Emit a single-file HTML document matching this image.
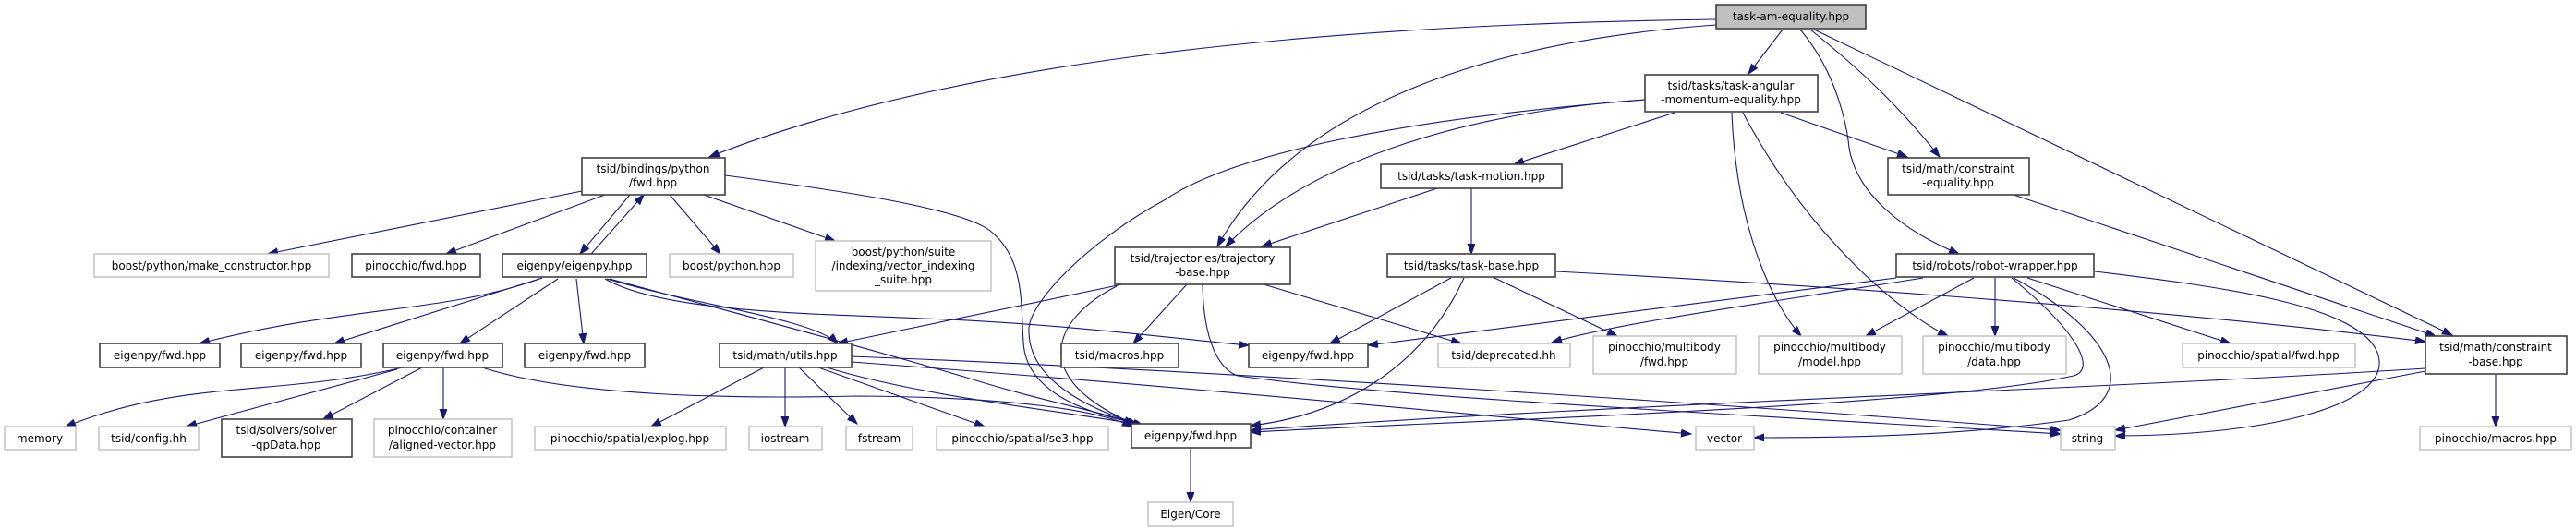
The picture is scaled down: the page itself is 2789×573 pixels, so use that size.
<!DOCTYPE html>
<html><head><meta charset="utf-8"><style>
html,body{margin:0;padding:0;background:#fff;}
svg{display:block;}
text{font-family:"DejaVu Sans","Liberation Sans",sans-serif;font-size:12px;fill:#000;text-anchor:middle;}
.b{fill:#fff;stroke:#404040;stroke-width:1.6;}
.g{fill:#fff;stroke:#bfbfbf;stroke-width:1.4;}
.r{fill:#bfbfbf;stroke:#404040;stroke-width:1.6;}
path.e{fill:none;stroke:#191970;stroke-width:1.1;marker-end:url(#a);}
</style></head><body>
<svg width="2789" height="573" viewBox="0 0 2789 573" xmlns="http://www.w3.org/2000/svg">
<defs><marker id="a" markerUnits="userSpaceOnUse" markerWidth="12" markerHeight="10" refX="11" refY="4" orient="auto"><path d="M0,0 L11,4 L0,8 z" fill="#191970" stroke="#191970"/></marker></defs>

<!-- edges -->
<path class="e" d="M1858,21 C1400,27 1020,70 768,170"/>
<path class="e" d="M1858,27 C1600,45 1400,120 1318,267"/>
<path class="e" d="M1930,32 L1893,80"/>
<path class="e" d="M1960,32 C2020,80 2060,120 2100,170"/>
<path class="e" d="M1949,32 C1990,80 2000,140 2002,160 C2010,210 2060,250 2121,275"/>
<path class="e" d="M1964,32 L2655,363"/>
<path class="e" d="M1781,108 C1600,120 1420,170 1327,267"/>
<path class="e" d="M1781,108 C1500,130 1330,170 1262,216 C1180,260 1110,330 1114,360 C1115,420 1200,450 1238,461"/>
<path class="e" d="M1813,122 L1639,178"/>
<path class="e" d="M1928,122 L2065,170"/>
<path class="e" d="M1875,122 C1880,250 1920,330 1950,364"/>
<path class="e" d="M1887,122 C1960,260 2060,340 2109,364"/>
<path class="e" d="M1556,204 L1366,267"/>
<path class="e" d="M1593,204 L1593,275"/>
<path class="e" d="M1571,301 L1440,372"/>
<path class="e" d="M1585,301 C1540,400 1450,450 1354,461"/>
<path class="e" d="M1618,301 L1751,364"/>
<path class="e" d="M1684,294 C1900,305 2300,330 2626,370"/>
<path class="e" d="M1215,308 L907,372"/>
<path class="e" d="M1285,308 L1227,372"/>
<path class="e" d="M1368,308 L1582,372"/>
<path class="e" d="M1209,310 C1140,345 1110,410 1232,461"/>
<path class="e" d="M1302,308 C1303,370 1320,400 1340,407 C1500,430 1900,450 2231,470"/>
<path class="e" d="M630,207 L290,275"/>
<path class="e" d="M655,211 L483,275"/>
<path class="e" d="M682,211 L628,275"/>
<path class="e" d="M640,275 L697,211"/>
<path class="e" d="M725,211 L780,275"/>
<path class="e" d="M762,211 L904,261"/>
<path class="e" d="M785,190 C900,205 1040,225 1072,250 C1110,280 1105,330 1108,370 C1110,430 1190,450 1232,459"/>
<path class="e" d="M587,301 C480,340 380,330 216,372"/>
<path class="e" d="M584,302 L362,372"/>
<path class="e" d="M604,302 L498,372"/>
<path class="e" d="M624,302 L632,372"/>
<path class="e" d="M655,302 C720,340 900,340 1000,345 C1150,350 1300,370 1352,374"/>
<path class="e" d="M657,302 C750,330 880,345 907,372"/>
<path class="e" d="M660,302 C800,340 950,380 1050,410 C1130,435 1190,445 1228,459"/>
<path class="e" d="M436,398 C300,430 200,410 71,462"/>
<path class="e" d="M430,400 L202,462"/>
<path class="e" d="M457,398 L350,454"/>
<path class="e" d="M480,398 L480,454"/>
<path class="e" d="M522,398 C620,430 800,432 930,429 C1100,430 1190,445 1226,462"/>
<path class="e" d="M827,398 L705,462"/>
<path class="e" d="M850,398 L850,462"/>
<path class="e" d="M865,398 L928,459"/>
<path class="e" d="M886,398 L1066,462"/>
<path class="e" d="M895,398 C1000,430 1150,445 1234,460"/>
<path class="e" d="M922,392 C1300,420 1600,450 1831,470"/>
<path class="e" d="M920,386 C1300,400 1900,440 2231,466"/>
<path class="e" d="M2053,301 L1481,374"/>
<path class="e" d="M2082,301 C1900,330 1750,350 1680,371"/>
<path class="e" d="M2137,301 L2020,364"/>
<path class="e" d="M2160,301 L2160,364"/>
<path class="e" d="M2180,301 C2290,360 2320,430 2240,455 C2100,475 1950,474 1899,474"/>
<path class="e" d="M2178,301 C2250,360 2270,400 2245,407 C2100,440 1600,455 1354,468"/>
<path class="e" d="M2195,301 L2415,372"/>
<path class="e" d="M2268,294 C2400,310 2560,330 2575,385 C2590,440 2450,472 2290,472"/>
<path class="e" d="M2180,211 L2637,364"/>
<path class="e" d="M2702,405 L2702,462"/>
<path class="e" d="M2626,402 L2290,466"/>
<path class="e" d="M2626,399 C2300,420 1700,440 1354,466"/>
<path class="e" d="M1289,485 L1289,544"/>

<!-- nodes -->
<rect class="r" x="1858" y="5" width="162" height="26"/><text x="1939" y="22">task-am-equality.hpp</text>
<rect class="b" x="1781" y="81" width="187" height="40"/><text x="1874" y="97">tsid/tasks/task-angular</text><text x="1874" y="112">-momentum-equality.hpp</text>
<rect class="b" x="630" y="171" width="155" height="40"/><text x="707" y="187">tsid/bindings/python</text><text x="707" y="202">/fwd.hpp</text>
<rect class="b" x="1495" y="178" width="196" height="26"/><text x="1593" y="195">tsid/tasks/task-motion.hpp</text>
<rect class="b" x="2044" y="171" width="153" height="40"/><text x="2120" y="187">tsid/math/constraint</text><text x="2120" y="202">-equality.hpp</text>
<rect class="b" x="1207" y="268" width="190" height="40"/><text x="1302" y="284">tsid/trajectories/trajectory</text><text x="1302" y="299">-base.hpp</text>
<rect class="b" x="1502" y="275" width="182" height="25"/><text x="1593" y="292">tsid/tasks/task-base.hpp</text>
<rect class="b" x="2053" y="275" width="214" height="25"/><text x="2160" y="292">tsid/robots/robot-wrapper.hpp</text>
<rect class="g" x="102" y="275" width="254" height="25"/><text x="229" y="292">boost/python/make_constructor.hpp</text>
<rect class="b" x="381" y="275" width="139" height="25"/><text x="450" y="292">pinocchio/fwd.hpp</text>
<rect class="b" x="544" y="275" width="156" height="25"/><text x="622" y="292">eigenpy/eigenpy.hpp</text>
<rect class="g" x="725" y="275" width="134" height="25"/><text x="792" y="292">boost/python.hpp</text>
<rect class="g" x="883" y="261" width="190" height="54"/><text x="978" y="277">boost/python/suite</text><text x="978" y="292">/indexing/vector_indexing</text><text x="978" y="307">_suite.hpp</text>
<rect class="b" x="108" y="372" width="130" height="26"/><text x="173" y="389">eigenpy/fwd.hpp</text>
<rect class="b" x="261" y="372" width="130" height="26"/><text x="326" y="389">eigenpy/fwd.hpp</text>
<rect class="b" x="415" y="372" width="129" height="26"/><text x="479" y="389">eigenpy/fwd.hpp</text>
<rect class="b" x="568" y="372" width="130" height="26"/><text x="633" y="389">eigenpy/fwd.hpp</text>
<rect class="b" x="779" y="372" width="143" height="26"/><text x="850" y="389">tsid/math/utils.hpp</text>
<rect class="b" x="1149" y="372" width="127" height="26"/><text x="1212" y="389">tsid/macros.hpp</text>
<rect class="b" x="1352" y="372" width="129" height="26"/><text x="1416" y="389">eigenpy/fwd.hpp</text>
<rect class="g" x="1557" y="372" width="143" height="26"/><text x="1628" y="389">tsid/deprecated.hh</text>
<rect class="g" x="1725" y="364" width="155" height="41"/><text x="1802" y="380">pinocchio/multibody</text><text x="1802" y="396">/fwd.hpp</text>
<rect class="g" x="1904" y="364" width="155" height="41"/><text x="1981" y="380">pinocchio/multibody</text><text x="1981" y="396">/model.hpp</text>
<rect class="g" x="2082" y="364" width="155" height="41"/><text x="2159" y="380">pinocchio/multibody</text><text x="2159" y="396">/data.hpp</text>
<rect class="g" x="2363" y="372" width="187" height="26"/><text x="2456" y="389">pinocchio/spatial/fwd.hpp</text>
<rect class="b" x="2626" y="364" width="153" height="41"/><text x="2702" y="380">tsid/math/constraint</text><text x="2702" y="396">-base.hpp</text>
<rect class="g" x="5" y="462" width="77" height="25"/><text x="43" y="479">memory</text>
<rect class="g" x="107" y="462" width="108" height="25"/><text x="161" y="479">tsid/config.hh</text>
<rect class="b" x="240" y="454" width="141" height="41"/><text x="310" y="470">tsid/solvers/solver</text><text x="310" y="486">-qpData.hpp</text>
<rect class="g" x="405" y="454" width="149" height="41"/><text x="479" y="470">pinocchio/container</text><text x="479" y="486">/aligned-vector.hpp</text>
<rect class="g" x="579" y="462" width="207" height="25"/><text x="682" y="479">pinocchio/spatial/explog.hpp</text>
<rect class="g" x="811" y="462" width="79" height="25"/><text x="850" y="479">iostream</text>
<rect class="g" x="916" y="462" width="72" height="25"/><text x="952" y="479">fstream</text>
<rect class="g" x="1014" y="462" width="186" height="25"/><text x="1107" y="479">pinocchio/spatial/se3.hpp</text>
<rect class="b" x="1225" y="459" width="129" height="26"/><text x="1289" y="476">eigenpy/fwd.hpp</text>
<rect class="g" x="1836" y="462" width="63" height="25"/><text x="1867" y="479">vector</text>
<rect class="g" x="2231" y="462" width="59" height="25"/><text x="2260" y="479">string</text>
<rect class="g" x="2620" y="462" width="164" height="25"/><text x="2702" y="479">pinocchio/macros.hpp</text>
<rect class="g" x="1243" y="544" width="92" height="26"/><text x="1289" y="561">Eigen/Core</text>
</svg>
</body></html>
